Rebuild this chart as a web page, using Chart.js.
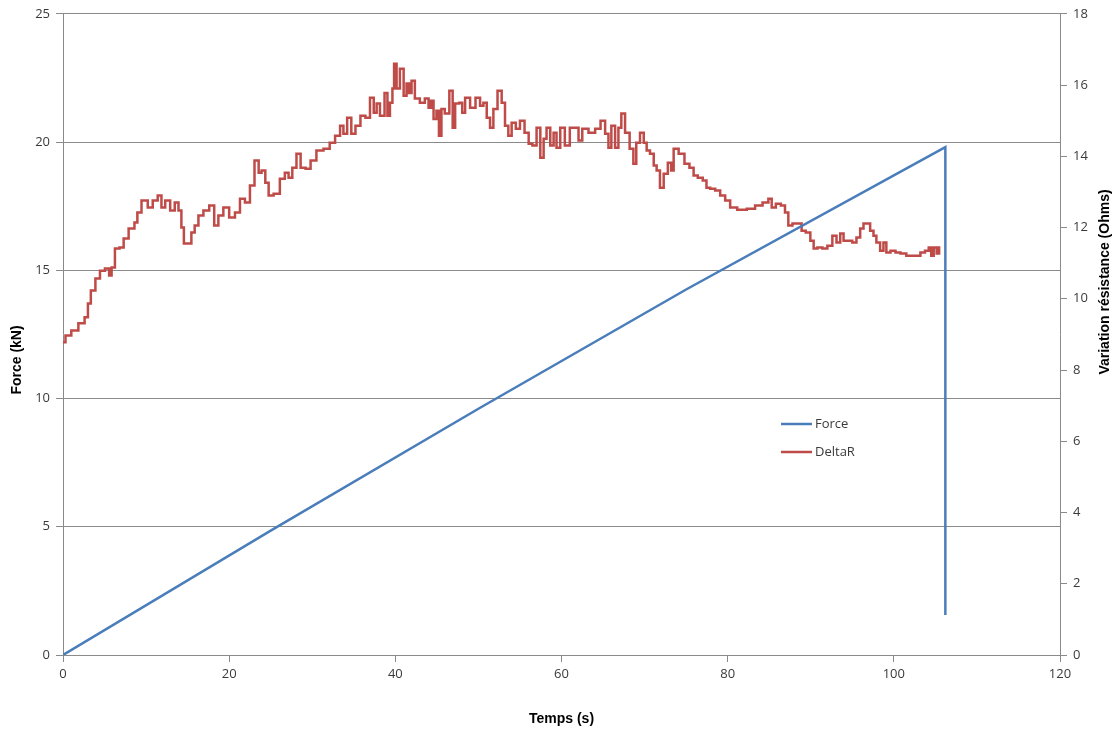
<!DOCTYPE html>
<html lang="fr">
<head>
<meta charset="utf-8">
<title>Force et DeltaR</title>
<script src="https://cdn.jsdelivr.net/npm/chart.js@4.4.1/dist/chart.umd.min.js"></script>
<style>
    html, body { margin: 0; padding: 0; background: #fff; }
    #conteneur { position: relative; width: 1120px; height: 733px; }
</style>
</head>
<body>
<div id="conteneur"><canvas id="graphique"></canvas></div>
<script>
// Données
const forceTemps = [0, 25, 50, 75, 100, 106.2, 106.2];
const forceValeurs = [0, 4.85, 9.6, 14.25, 18.7, 19.8, 1.56];

const deltaTemps = [
    0.0, 0.6, 1.4, 2.3, 2.9, 3.1, 3.6, 4.2, 4.7, 5.4, 5.7, 6.0, 6.5, 7.1, 7.5, 8.3, 8.9, 9.0, 9.9, 10.5,
    11.1, 11.7, 12.0, 12.6, 13.2, 13.7, 14.1, 14.4, 14.7, 15.3, 15.6, 16.1, 16.5, 17.3, 17.9, 18.5, 18.9, 19.7, 20.3, 21.1,
    21.5, 22.3, 22.7, 23.4, 23.7, 24.1, 24.6, 24.9, 25.8, 26.4, 27.0, 27.3, 27.9, 28.3, 28.9, 29.5, 30.1, 30.9, 31.8, 32.4,
    33.1, 33.6, 33.9, 34.5, 34.9, 35.5, 36.1, 36.7, 37.2, 37.6, 37.9, 38.4, 39.0, 39.1, 39.6, 39.7, 40.0, 40.3, 40.8, 41.2,
    41.5, 41.8, 42.1, 42.6, 43.3, 43.8, 44.2, 44.4, 44.8, 45.1, 45.4, 45.7, 46.2, 46.8, 47.0, 47.4, 48.0, 48.1, 48.7, 49.3,
    50.0, 50.4, 50.8, 51.2, 51.6, 52.0, 52.6, 53.0, 53.4, 53.8, 54.2, 54.8, 55.2, 55.9, 56.2, 56.8, 57.2, 57.7, 58.0, 58.4,
    58.9, 59.2, 59.6, 60.1, 60.7, 61.3, 61.9, 62.2, 62.8, 63.7, 64.4, 65.0, 65.5, 65.8, 66.2, 66.7, 67.0, 67.4, 67.9, 68.5,
    68.8, 69.2, 69.7, 70.1, 70.4, 70.9, 71.3, 71.6, 72.1, 72.5, 73.1, 73.3, 73.7, 74.5, 75.1, 75.7, 76.1, 76.7, 77.3, 77.6,
    78.2, 78.8, 79.4, 80.0, 80.6, 81.7, 82.9, 83.7, 84.7, 85.1, 85.5, 86.1, 86.7, 87.1, 87.5, 88.1, 88.7, 89.1, 89.7, 90.2,
    90.5, 91.1, 91.7, 92.3, 92.9, 93.3, 93.8, 94.1, 94.7, 95.3, 95.7, 96.2, 96.5, 96.9, 97.4, 97.7, 98.1, 98.6, 98.9, 99.3,
    99.9, 100.5, 101.1, 101.9, 102.9, 103.5, 104.0, 104.4, 104.6, 105.0, 105.3, 105.6
];
const deltaValeurs = [
    8.78, 8.97, 9.11, 9.31, 9.48, 9.87, 10.23, 10.57, 10.79, 10.85, 10.65, 10.88, 11.41, 11.44, 11.69, 11.97, 12.14, 12.42, 12.76, 12.56,
    12.76, 12.9, 12.56, 12.76, 12.48, 12.7, 12.48, 12.0, 11.55, 11.55, 11.86, 12.06, 12.34, 12.48, 12.62, 12.06, 12.34, 12.56, 12.28, 12.42,
    12.81, 12.7, 13.18, 13.88, 13.54, 13.6, 13.26, 12.9, 12.95, 13.37, 13.54, 13.4, 13.68, 14.07, 13.68, 13.65, 13.88, 14.16, 14.21, 14.38,
    14.58, 14.86, 14.63, 15.08, 14.63, 14.86, 15.14, 15.08, 15.64, 15.22, 15.48, 15.14, 15.78, 15.14, 15.5, 15.9, 16.6, 15.9, 16.46, 15.7,
    16.04, 15.78, 16.12, 15.62, 15.5, 15.62, 15.36, 15.56, 15.05, 15.28, 14.58, 15.33, 15.2, 15.84, 14.8, 15.48, 15.5, 15.22, 15.64, 15.36,
    15.64, 15.42, 15.5, 15.08, 14.8, 15.33, 15.84, 15.5, 14.86, 14.58, 14.94, 14.77, 15.0, 14.66, 14.35, 14.3, 14.8, 13.96, 14.49, 14.8,
    14.3, 14.66, 14.24, 14.8, 14.3, 14.8, 14.8, 14.44, 14.77, 14.66, 14.77, 15.0, 14.63, 14.24, 14.86, 14.24, 14.8, 15.2, 14.66, 14.21,
    13.79, 14.38, 14.66, 14.38, 14.16, 14.07, 13.74, 13.6, 13.12, 13.51, 13.82, 13.6, 14.21, 14.07, 13.79, 13.68, 13.46, 13.4, 13.32, 13.12,
    13.09, 13.04, 12.9, 12.76, 12.56, 12.5, 12.53, 12.62, 12.7, 12.81, 12.56, 12.67, 12.62, 12.42, 12.06, 12.11, 12.11, 11.91, 11.86, 11.63,
    11.41, 11.44, 11.41, 11.49, 11.77, 11.58, 11.83, 11.63, 11.63, 11.58, 11.72, 11.97, 12.11, 12.11, 11.91, 11.77, 11.58, 11.35, 11.58, 11.3,
    11.35, 11.3, 11.27, 11.21, 11.21, 11.3, 11.35, 11.44, 11.21, 11.44, 11.27, 11.44
];

const COULEURS = {
    FORCE: '#4a7ebb',
    DELTA: '#be4b48',
    GRILLE: '#8a8a8a',
    TEXTE: '#3a3a3a'
};

const POLICE_TICKS = { family: '"Open Sans", "Liberation Sans", sans-serif', size: 13 };
const POLICE_TITRE = '"Liberation Sans Narrow", "Liberation Sans", sans-serif';

function versPoints(temps, valeurs) {
    return temps.map((t, i) => ({ x: t, y: valeurs[i] }));
}

// Légende et titres verticaux dessinés sur le canevas
const decorations = {
    id: 'decorations',
    afterDraw(chart) {
        const ctx = chart.ctx;
        ctx.save();

        ctx.font = '13px "Open Sans", "Liberation Sans", sans-serif';
        ctx.textBaseline = 'middle';
        ctx.textAlign = 'left';
        const entrees = [
            { nom: 'Force', couleur: COULEURS.FORCE, y: 424 },
            { nom: 'DeltaR', couleur: COULEURS.DELTA, y: 452 }
        ];
        entrees.forEach(e => {
            ctx.strokeStyle = e.couleur;
            ctx.lineWidth = 2.5;
            ctx.beginPath();
            ctx.moveTo(781, e.y);
            ctx.lineTo(812, e.y);
            ctx.stroke();
            ctx.fillStyle = COULEURS.TEXTE;
            ctx.fillText(e.nom, 815, e.y);
        });

        ctx.font = 'bold 14px ' + POLICE_TITRE;
        ctx.fillStyle = '#000';
        ctx.textAlign = 'center';

        ctx.translate(17, 360);
        ctx.rotate(-Math.PI / 2);
        ctx.fillText('Force (kN)', 0, 0);
        ctx.setTransform(1, 0, 0, 1, 0, 0);

        ctx.translate(1105, 282);
        ctx.rotate(-Math.PI / 2);
        ctx.fillText('Variation résistance (Ohms)', 0, 0);

        ctx.restore();
    }
};

new Chart(document.getElementById('graphique').getContext('2d'), {
    type: 'line',
    data: {
        datasets: [
            {
                label: 'Force',
                data: versPoints(forceTemps, forceValeurs),
                borderColor: COULEURS.FORCE,
                borderWidth: 2.5,
                pointRadius: 0,
                tension: 0,
                yAxisID: 'yForce'
            },
            {
                label: 'DeltaR',
                data: versPoints(deltaTemps, deltaValeurs),
                borderColor: COULEURS.DELTA,
                borderWidth: 2.5,
                pointRadius: 0,
                stepped: 'middle',
                yAxisID: 'yDelta'
            }
        ]
    },
    options: {
        responsive: true,
        maintainAspectRatio: false,
        animation: false,
        layout: { padding: { top: 13, left: 0, right: 0, bottom: 0 } },
        plugins: {
            legend: { display: false },
            tooltip: { enabled: false }
        },
        scales: {
            x: {
                type: 'linear',
                min: 0,
                max: 120,
                afterFit: (scale) => { scale.height = 78; },
                ticks: { stepSize: 20, color: COULEURS.TEXTE, font: POLICE_TICKS, padding: 4 },
                grid: { drawOnChartArea: false, drawTicks: true, tickLength: 7, color: COULEURS.GRILLE },
                border: { color: COULEURS.GRILLE },
                title: {
                    display: true,
                    text: 'Temps (s)',
                    color: '#000',
                    font: { family: POLICE_TITRE, size: 14, weight: 'bold' },
                    padding: { top: 0, bottom: 5 }
                }
            },
            yForce: {
                position: 'left',
                min: 0,
                max: 25,
                afterFit: (scale) => { scale.width = 63; },
                ticks: { stepSize: 5, color: COULEURS.TEXTE, font: POLICE_TICKS, padding: 6 },
                grid: { color: COULEURS.GRILLE, tickLength: 7 },
                border: { color: COULEURS.GRILLE }
            },
            yDelta: {
                position: 'right',
                min: 0,
                max: 18,
                afterFit: (scale) => { scale.width = 60; },
                ticks: { stepSize: 2, color: COULEURS.TEXTE, font: POLICE_TICKS, padding: 6 },
                grid: { drawOnChartArea: false, tickLength: 7, color: COULEURS.GRILLE },
                border: { color: COULEURS.GRILLE }
            }
        }
    },
    plugins: [decorations]
});
</script>
</body>
</html>
